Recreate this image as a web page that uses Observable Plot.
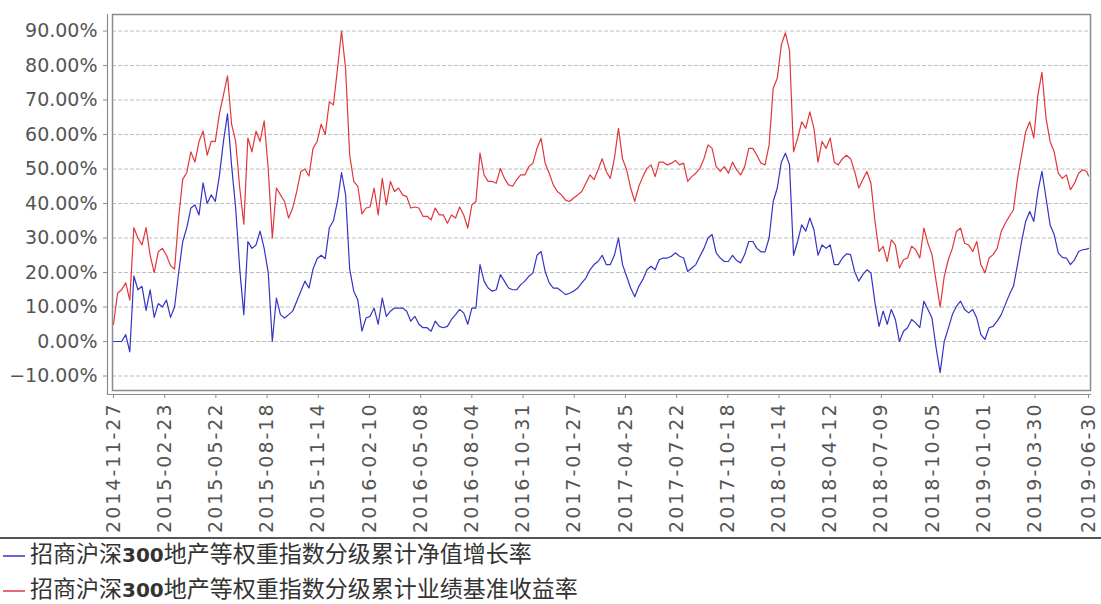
<!DOCTYPE html>
<html><head><meta charset="utf-8">
<script src="https://cdn.jsdelivr.net/npm/d3@7"></script>
<script src="https://cdn.jsdelivr.net/npm/@observablehq/plot@0.6"></script>
<style>
html,body{margin:0;padding:0;background:#fff}
body{width:1101px;height:604px;overflow:hidden;position:relative;font-family:"DejaVu Sans",sans-serif}
#chart{position:absolute;left:0;top:0}
#sep{position:absolute;left:0;top:537px;width:1101px;height:0;border-top:2px solid #555}
.row{position:absolute;left:0;height:26px;line-height:26px;font-family:"Noto Sans CJK SC",sans-serif;font-size:23px;color:#333;white-space:nowrap}
.row b{font-family:"DejaVu Sans",sans-serif;font-weight:bold;font-size:20px}
.sw{display:inline-block;width:22px;height:1.5px;vertical-align:middle;margin:0 5px 0 3px}
</style></head><body>
<div id="chart"></div><div id="sep"></div><div id="legend"></div>
<script>
const startDate = "2014-11-27";
const endDate = "2019-06-30";
const seriesNames = ["招商沪深300地产等权重指数分级累计净值增长率", "招商沪深300地产等权重指数分级累计业绩基准收益率"];
const seriesColors = ["#3434c4", "#e0363c"];
const yTicks = [-10, 0, 10, 20, 30, 40, 50, 60, 70, 80, 90];
const xTickLabels = ["2014-11-27","2015-02-23","2015-05-22","2015-08-18","2015-11-14","2016-02-10","2016-05-08","2016-08-04","2016-10-31","2017-01-27","2017-04-25","2017-07-22","2017-10-18","2018-01-14","2018-04-12","2018-07-09","2018-10-05","2019-01-01","2019-03-30","2019-06-30"];

// weekly readings (%), last value at endDate
const navGrowth = [
0,0,0,2,-3,19,15,16,9,15,7,11,10,12,7,10,20,29,33,
38.7,39.6,36.7,46,40,42.5,40.6,48,58,66,51,38.7,21,7.8,29,27,28,32,27,20,0,12.6,7.8,6.8,7.8,8.8,11.7,14.6,17.5,15.5,21,24,25,24,33,35,40.6,49,42.5,21,14.6,
12,3,6.8,7.3,9.7,5,12.6,7.3,8.8,9.7,9.7,9.7,8.8,5.9,7.3,5,4,4,3,5.9,4.4,4,4.4,6.4,7.8,9.3,8.3,5,9.7,9.7,
22.3,17.5,15.5,14.6,15,19.4,17.5,15.5,15,15,16.5,17.5,18.9,19.9,25,26.1,20.3,17,15.5,15.5,14.6,13.6,14,14.6,15.5,17,18.4,20.8,22.3,
23.2,25,22.3,22.3,25,30,22.3,18.9,15.5,13,16,18,20.8,21.8,20.8,23.7,24.2,24.2,24.7,25.7,24.7,24.2,20.3,21.3,22.3,24.7,27,30,31,25.7,24.2,23.2,23.2,25,23.5,22.8,25.2,29,29,27,26,26,30,40.6,44.5,52,54.6,51.2,25,29,33.8,32,35.8,32.4,25,28,27,28,22.3,22.3,
24.2,25.4,25.2,20.3,17.5,19.4,20.8,19.9,11.2,4.4,8.8,5,9.3,6.4,0,3,4,6.4,5.4,4,11.7,9.3,6.8,-1.8,-9,0,3.8,7.8,10.2,11.7,9.3,8.3,9.3,6.8,2,0.6,4,4.4,5.9,7.8,10.7,13.6,16,22.3,29,34.8,37.7,34.8,43.5,49.3,41.6,33.8,31,25.7,24.4,24.2,22.3,23.7,26.1,26.6,26.8,
27];
const benchmark = [
5,14,15,17,12,33,30,28,33,25,20,26,27,25,22,21,36,47,49,
55,52,58,61,54,58,58,66,71.5,77,63,58,44.5,34,59,55,61,58,64,50,30,44.5,42.5,40.6,35.8,38.7,43.5,49.3,50,48,56,58,63,60,69.5,68.6,79,90,79,54,46.4,
45,37,38.7,39,44.5,36.7,47.3,39.6,46.4,43.5,44.5,42.5,42,38.7,39,38.7,36.3,36.3,35.3,38.7,36.7,36.7,34.3,36.7,35.8,39,36.7,32.9,39.6,40.6,
54.6,48.3,46.4,46.4,45.9,50.2,47.3,45.4,45,46.9,48.3,48.3,50.7,51.7,56,58.9,51.7,48.8,45.4,43.5,42.5,41,40.6,41.6,42.5,43.5,45.9,48.3,46.9,
49.8,53,49.3,47.3,53,61.8,53,49.8,44.5,40.6,45,47.8,50.2,51.2,47.8,52,52,51.2,51.7,52.5,51.2,51.7,46.4,47.8,48.8,50.2,53,57,56,50.7,49.3,50.7,48.8,52,49.8,48.3,50.7,56,56,54,51.7,51.2,57,73.4,76.3,86,89.5,84.5,55,58.9,63.7,61.8,66.6,61.8,52,58,56,59,52,51.2,
53,54,53,49.3,44.5,46.9,49.3,45.9,34.8,26.1,27.6,23.2,29.5,28,21.3,23.7,24.2,27.6,26.6,24.2,32.9,28.5,25.2,17.5,10,18.9,23.7,27,31.9,32.9,28.5,28,26.1,29,22.3,19.9,24.2,25.2,27,31.9,34.3,36.3,38.2,47.3,54,60.8,63.7,59,71.5,78,64.7,58,55,48.8,47.3,48.3,44,45.9,48.8,49.8,49.3,
48];

const start = new Date(startDate), end = new Date(endDate);
const dates = navGrowth.map((_, i) => i === navGrowth.length - 1 ? end : d3.utcDay.offset(start, 7 * i));
const rows = [];
[navGrowth, benchmark].forEach((vals, s) => vals.forEach((v, i) => rows.push({date: dates[i], value: v, series: seriesNames[s]})));
const xTicks = xTickLabels.map(d => new Date(d));
const fmtY = d => (d < 0 ? "−" : "") + Math.abs(d).toFixed(2) + "%";
const axisColor = "#8c8c8c";

const chart = Plot.plot({
  width: 1101, height: 537,
  marginLeft: 112, marginRight: 11, marginTop: 14, marginBottom: 147,
  style: {fontFamily: "DejaVu Sans, sans-serif", fontSize: "19px", color: "#555", background: "#fff", overflow: "visible"},
  x: {type: "utc", domain: [start, end], insetLeft: 1, insetRight: 2},
  y: {domain: [-14.2, 94.8]},
  marks: [
    Plot.gridY(yTicks, {stroke: "#bdbdbd", strokeOpacity: 1, strokeDasharray: "4,2"}),
    Plot.line(rows.filter(r => r.series === seriesNames[1]), {x: "date", y: "value", stroke: seriesColors[1], strokeWidth: 1.2}),
    Plot.line(rows.filter(r => r.series === seriesNames[0]), {x: "date", y: "value", stroke: seriesColors[0], strokeWidth: 1.2}),
    Plot.frame({stroke: axisColor, strokeWidth: 1.5}),
    Plot.frame({anchor: "left", dx: -5, insetBottom: -4, stroke: axisColor, strokeWidth: 1.2}),
    Plot.frame({anchor: "bottom", dy: 4, insetLeft: -5, stroke: axisColor, strokeWidth: 1.2}),
    Plot.axisY(yTicks, {tickFormat: fmtY, dx: -5, tickSize: 4, tickPadding: 6, stroke: axisColor, label: null}),
    Plot.axisX(xTicks, {tickFormat: d3.utcFormat("%Y-%m-%d"), tickRotate: -90, dy: 4, tickSize: 4, tickPadding: 4, stroke: axisColor, label: null})
  ]
});
d3.select(chart).selectAll('g[aria-label="x-axis tick label"] text').style("letter-spacing", "2px");
document.getElementById("chart").appendChild(chart);

const legend = document.getElementById("legend");
seriesNames.forEach((name, i) => {
  const row = document.createElement("div");
  row.className = "row";
  row.style.top = (539 + i * 35) + "px";
  row.innerHTML = `<span class="sw" style="background:${seriesColors[i]};opacity:0.75"></span>` + name.replace(/(\d+)/, "<b>$1</b>");
  legend.appendChild(row);
});
</script></body></html>
